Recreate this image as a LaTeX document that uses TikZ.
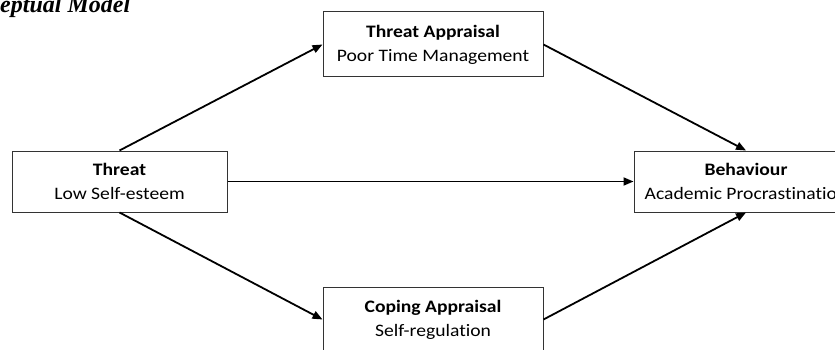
\documentclass[tikz,border=0pt]{standalone}
\usepackage{fontspec}
\setmainfont{Carlito}[FakeStretch=1.12, Ligatures={TeX,NoCommon}]
\newfontfamily\titlefont{Liberation Serif}
\usetikzlibrary{arrows.meta}

\begin{document}
\begin{tikzpicture}[
  x=1pt, y=-1pt,
  stagebox/.style={
    draw=black!80,
    line width=1pt,
    rectangle,
    inner sep=0pt,
    align=center,
    font=\fontsize{17.5}{24}\selectfont
  },
  link/.style={
    draw,
    line width=1.8pt,
    -{Triangle[length=10pt,width=8pt]}
  }
]
\useasboundingbox (0,0) rectangle (835,350);

% Title (cut at the top)
\node[anchor=base west, inner sep=0pt, font=\titlefont\bfseries\itshape\fontsize{24}{24}\selectfont] (title) at (0,12.5) {eptual Model};

% Stages of the model
\node[stagebox, minimum width=215pt, minimum height=61pt] (threat) at (119.5,181.5) {\textbf{Threat}\\Low Self-esteem};
\node[stagebox, minimum width=220pt, minimum height=65pt] (tappr) at (433,44.5) {\textbf{Threat Appraisal}\\Poor Time Management};
\node[stagebox, minimum width=220pt, minimum height=65pt] (cappr) at (433,319.5) {\textbf{Coping Appraisal}\\Self-regulation};
\node[stagebox, minimum width=224pt, minimum height=61pt] (behav) at (746,181.5) {\textbf{Behaviour}\\Academic Procrastination};

% Paths
\draw[link] (threat.north) -- (tappr.west);
\draw[link] (tappr.east) -- (behav.north);
\draw[link] (threat.east) -- (behav.west);
\draw[link] (threat.south) -- (cappr.west);
\draw[link] (cappr.east) -- (behav.south);
\end{tikzpicture}
\end{document}
